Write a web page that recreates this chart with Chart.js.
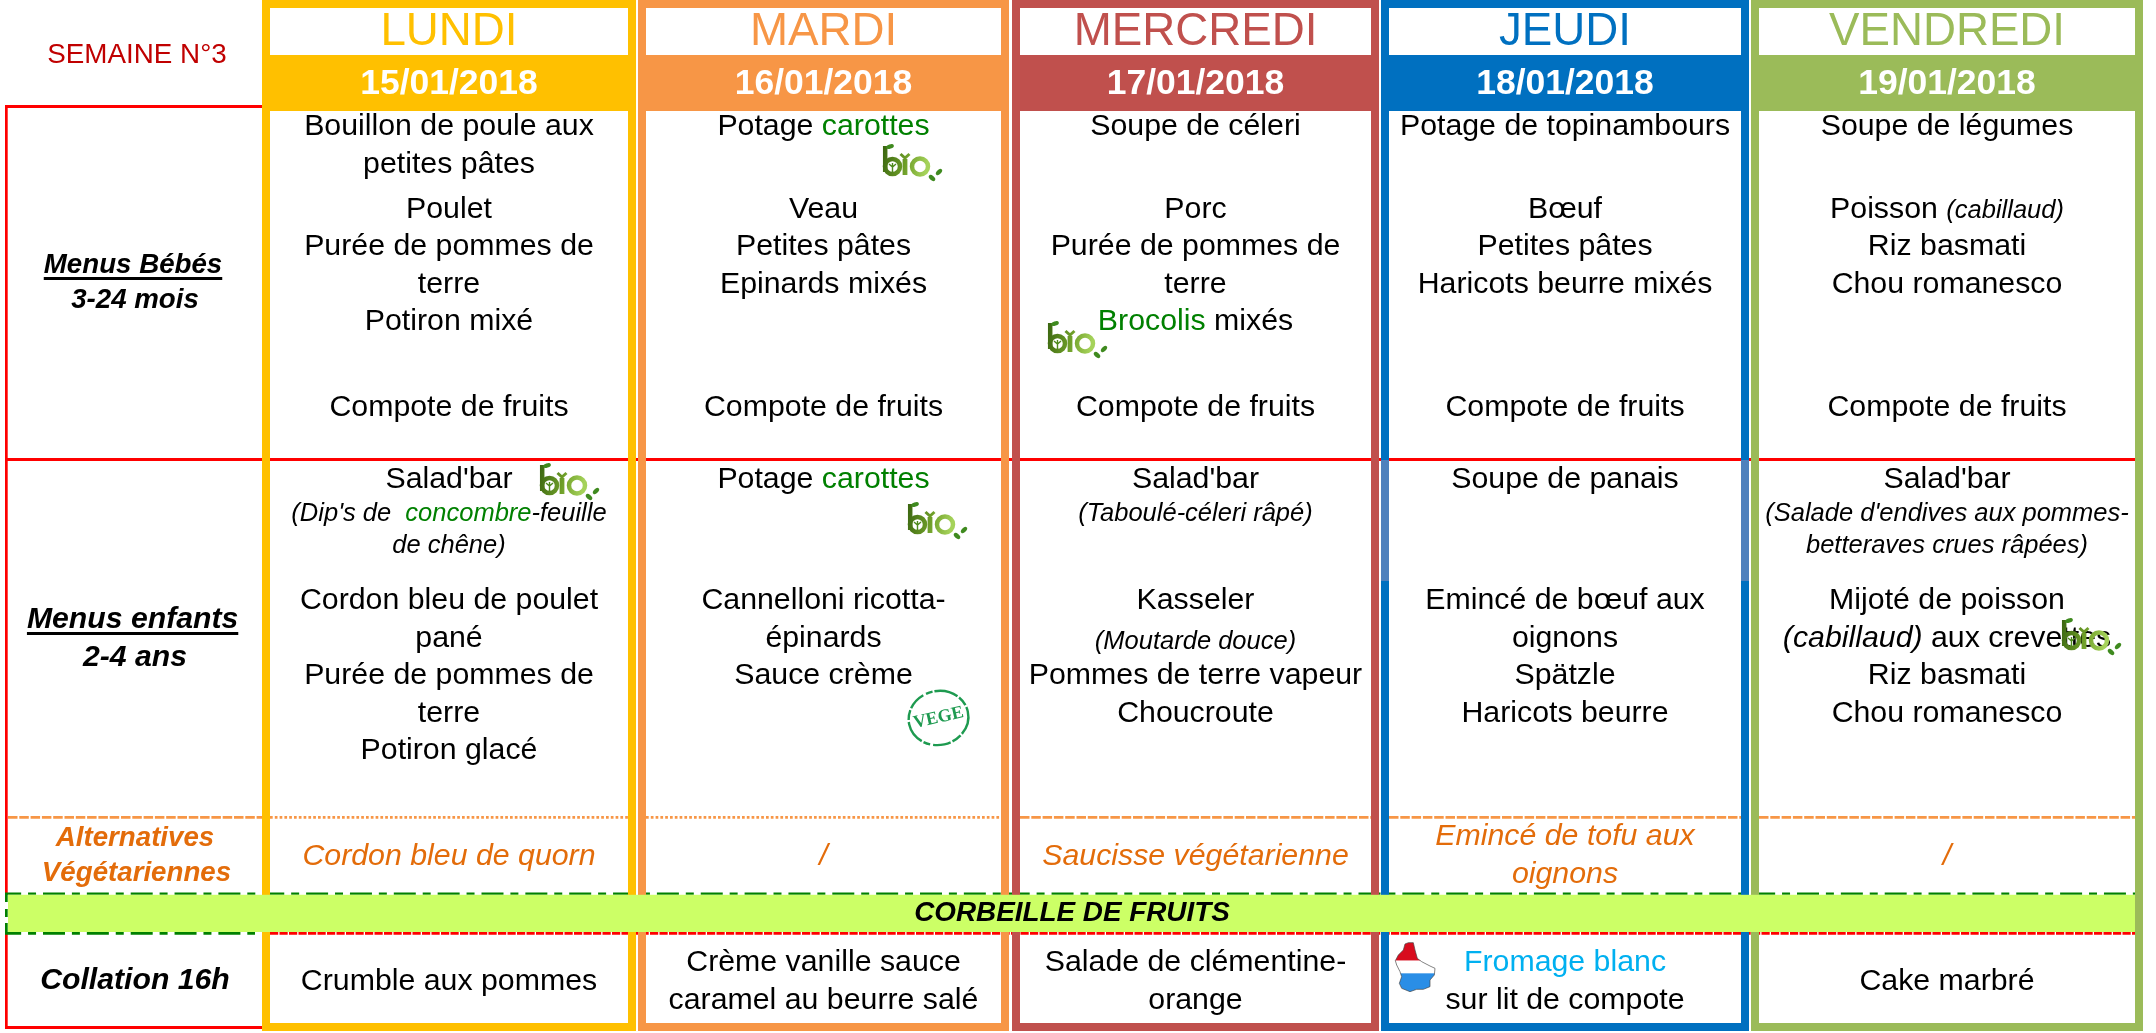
<!DOCTYPE html>
<html lang="fr">
<head>
<meta charset="utf-8">
<title>Menus semaine 3</title>
<script src="https://cdn.jsdelivr.net/npm/chart.js@4/dist/chart.umd.js"></script>
<style>html,body{margin:0;padding:0;background:#fff;overflow:hidden}canvas{display:block}</style>
</head>
<body>
<canvas id="c" width="2156" height="1033" style="width:2156px;height:1033px"></canvas>
<script>
// ---- content ----
const weekLabel = "SEMAINE N°3";
const days = ["LUNDI","MARDI","MERCREDI","JEUDI","VENDREDI"];
const dates = ["15/01/2018","16/01/2018","17/01/2018","18/01/2018","19/01/2018"];
const dayColors = ["#FFC000","#F79646","#C0504D","#0070C0","#9BBB59"];

// {g:..} green, {i:..} italic, {s:..} small italic, {h:..} small italic green, {c:..} cyan
const babyMonday = ["Bouillon de poule aux","petites pâtes","Poulet","Purée de pommes de","terre","Potiron mixé","","Compote de fruits"];
const babyTuesday = ["Potage {g:carottes}","","Veau","Petites pâtes","Epinards mixés","","","Compote de fruits"];
const babyWednesday = ["Soupe de céleri","","Porc","Purée de pommes de","terre","{g:Brocolis} mixés","","Compote de fruits"];
const babyThursday = ["Potage de topinambours","","Bœuf","Petites pâtes","Haricots beurre mixés","","","Compote de fruits"];
const babyFriday = ["Soupe de légumes","","Poisson {s:(cabillaud)}","Riz basmati","Chou romanesco","","","Compote de fruits"];

const kidMonday = ["Salad'bar","{s:(Dip's de  }{h:concombre}{s:-feuille}","{s:de chêne)}","Cordon bleu de poulet","pané","Purée de pommes de","terre","Potiron glacé"];
const kidTuesday = ["Potage {g:carottes}","","","Cannelloni ricotta-","épinards","Sauce crème","",""];
const kidWednesday = ["Salad'bar","{s:(Taboulé-céleri râpé)}","","Kasseler","{s:(Moutarde douce)}","Pommes de terre vapeur","Choucroute",""];
const kidThursday = ["Soupe de panais","","","Emincé de bœuf aux","oignons","Spätzle","Haricots beurre",""];
const kidFriday = ["Salad'bar","{s:(Salade d'endives aux pommes-}","{s:betteraves crues râpées)}","Mijoté de poisson","{i:(cabillaud)} aux crevettes","Riz basmati","Chou romanesco",""];

const veggieOptions = [["Cordon bleu de quorn"],["/"],["Saucisse végétarienne"],["Emincé de tofu aux","oignons"],["/"]];
const snacks = [["Crumble aux pommes"],["Crème vanille sauce","caramel au beurre salé"],["Salade de clémentine-","orange"],["{c:Fromage blanc}","sur lit de compote"],["Cake marbré"]];
const fruitBanner = "CORBEILLE DE FRUITS";
const rowLabels = [["Menus Bébés","3-24 mois"],["Menus enfants","2-4 ans"],["Alternatives","Végétariennes"],["Collation 16h"]];

// ---- layout ----
const outerL = [262,638,1012,1381,1751], outerR = [636,1009,1379,1749,2143];
const innerL = [270,646,1020,1389,1759], innerR = [628,1001,1371,1741,2135];
const babySlots = [135,173,218,255,293,330,368,416];
const kidSlots = [488,521,553,609,647,684,722,759];
const babyCols = [babyMonday,babyTuesday,babyWednesday,babyThursday,babyFriday];
const kidCols = [kidMonday,kidTuesday,kidWednesday,kidThursday,kidFriday];
const bioSpots = [[883,145],[1048,322],[540,464],[908,503],[2062,619]];

const FONT = '"Liberation Sans", Arial, sans-serif';
const BODY = 30.3, SMALL = 25.5, RED = "#FF0000", ORANGE = "#E36C0A", GREEN = "#008000", CYAN = "#00B0F0", RULE = "#F79646";

function parseRuns(s){
  const out=[]; const re=/\{(\w):([^}]*)\}|([^{]+)/g; let m;
  while((m=re.exec(s))){ if(m[3]) out.push({k:"n",t:m[3]}); else out.push({k:m[1],t:m[2]}); }
  return out;
}
function runStyle(k,base){
  switch(k){
    case "g": return {font:`${BODY}px ${FONT}`,color:GREEN};
    case "i": return {font:`italic ${BODY}px ${FONT}`,color:"#000"};
    case "s": return {font:`italic ${SMALL}px ${FONT}`,color:"#000"};
    case "h": return {font:`italic ${SMALL}px ${FONT}`,color:GREEN};
    case "c": return {font:`${BODY}px ${FONT}`,color:CYAN};
    default: return base||{font:`${BODY}px ${FONT}`,color:"#000"};
  }
}
function drawRich(ctx,s,cx,y,base){
  const runs=parseRuns(s).map(r=>({...r,st:runStyle(r.k,base)}));
  let w=0; runs.forEach(r=>{ctx.font=r.st.font; r.w=ctx.measureText(r.t).width; w+=r.w;});
  let x=cx-w/2; ctx.textAlign="left"; ctx.textBaseline="alphabetic";
  runs.forEach(r=>{ctx.font=r.st.font; ctx.fillStyle=r.st.color; ctx.fillText(r.t,x,y); x+=r.w;});
}

// ---- icons (pictures in the original) ----
function drawBio(ctx,px,py){
  ctx.save(); ctx.translate(px,py);
  const g=ctx.createLinearGradient(0,0,46,10); g.addColorStop(0,"#3A6510"); g.addColorStop(0.55,"#6E9E28"); g.addColorStop(1,"#A5D25A");
  ctx.strokeStyle=g; ctx.lineCap="butt";
  ctx.lineWidth=4.5;
  ctx.beginPath(); ctx.moveTo(2.2,1); ctx.lineTo(2.2,27); ctx.stroke();
  ctx.beginPath(); ctx.arc(9.5,21.5,7.5,0,Math.PI*2); ctx.stroke();
  ctx.strokeStyle="#4E8A1C"; ctx.lineWidth=1.4;
  ctx.beginPath(); ctx.moveTo(9.5,27); ctx.lineTo(9.5,18); ctx.moveTo(6,19); ctx.lineTo(9.5,22); ctx.lineTo(13,19); ctx.stroke();
  ctx.strokeStyle=g; ctx.lineWidth=4.8;
  ctx.beginPath(); ctx.moveTo(22,14); ctx.lineTo(22,30); ctx.stroke();
  ctx.lineWidth=3; ctx.beginPath(); ctx.moveTo(17.5,9); ctx.lineTo(22,13); ctx.lineTo(26.5,9); ctx.stroke();
  ctx.lineWidth=4.5;
  ctx.beginPath(); ctx.arc(37,21.5,8,0,Math.PI*2); ctx.stroke();
  ctx.fillStyle="#3F8A1F";
  const leaf=(x,y,r,l)=>{ctx.save();ctx.translate(x,y);ctx.rotate(r);ctx.beginPath();ctx.ellipse(0,0,l,2.2,0,0,Math.PI*2);ctx.fill();ctx.restore();};
  leaf(7,1.5,-0.35,4); leaf(49,33,0.7,3.8); leaf(56,27,-0.8,3.8);
  ctx.restore();
}
function drawVege(ctx,cx,cy){
  ctx.save(); ctx.translate(cx,cy); ctx.rotate(-0.22);
  ctx.strokeStyle="#1E9A50"; ctx.lineWidth=2.4; ctx.setLineDash([24,2,10,2,18,3,7,2]);
  ctx.beginPath(); ctx.ellipse(0,0,30,27,0,0,Math.PI*2); ctx.stroke(); ctx.setLineDash([]);
  ctx.fillStyle="#1E9A50"; ctx.font='bold 18px "Liberation Serif", serif'; ctx.textAlign="center"; ctx.textBaseline="middle";
  ctx.fillText("VEGE",0,0);
  ctx.restore();
}
const luxOutline=[[75,42],[85,38],[100,38],[105,60],[112,85],[125,95],[150,108],[165,115],[163,135],[150,150],[150,170],[130,178],[110,178],[90,185],[65,175],[58,160],[65,140],[60,125],[50,105],[46,92],[55,75],[70,60]];
function drawLux(ctx,px,py){
  ctx.save(); ctx.translate(px,py); ctx.scale(1/3,1/3);
  const path=new Path2D(); luxOutline.forEach((p,i)=>i?path.lineTo(p[0],p[1]):path.moveTo(p[0],p[1])); path.closePath();
  ctx.save(); ctx.clip(path);
  ctx.fillStyle="#D80C1E"; ctx.fillRect(0,0,300,92);
  ctx.fillStyle="#fff"; ctx.fillRect(0,92,300,38);
  ctx.fillStyle="#2A8EE6"; ctx.fillRect(0,130,300,70);
  ctx.restore();
  ctx.strokeStyle="#444"; ctx.lineWidth=2; ctx.stroke(path);
  ctx.restore();
}

// ---- drawing through the chart's scales ----
const menuPlugin={
  id:"menu",
  afterDatasetsDraw(chart){
    const ctx=chart.ctx, X=v=>chart.scales.x.getPixelForValue(v), Y=v=>chart.scales.y.getPixelForValue(v);
    const rect=(x0,y0,x1,y1,col)=>{ctx.fillStyle=col;ctx.fillRect(X(x0),Y(y0),X(x1)-X(x0),Y(y1)-Y(y0));};
    const line=(x0,y,x1,col,w,dash,off)=>{ctx.save();ctx.strokeStyle=col;ctx.lineWidth=w;ctx.setLineDash(dash||[]);ctx.lineDashOffset=off||0;ctx.beginPath();ctx.moveTo(X(x0),Y(y));ctx.lineTo(X(x1),Y(y));ctx.stroke();ctx.restore();};
    const dashDot=[22,6.9,8,6.95];
    ctx.save();
    // red grid
    rect(5,105,262,108,RED);
    rect(5,105,7.7,893,RED);
    rect(5,933,7.7,1029,RED);
    rect(5,458,2135,461,RED);
    rect(5,1026,262,1029,RED);
    // banner edges, under the day frames
    line(5,893.6,2135,GREEN,2.4,dashDot,5.85);
    line(270,933.4,2135,RED,2.6,[8.2,1.3]);
    line(5,933.4,255,GREEN,2.6,dashDot,5.85);
    // orange rule in the row-label column
    line(8,817.3,262,RULE,2.7,[9.5,1.8]);
    // columns
    days.forEach((d,i)=>{
      const c=dayColors[i];
      rect(outerL[i],0,innerL[i],1031,c);
      rect(innerR[i],0,outerR[i],1031,c);
      rect(outerL[i],0,outerR[i],8,c);
      rect(outerL[i],55,outerR[i],111,c);
      rect(outerL[i],1023,outerR[i],1031,c);
      const dotted=i<2;
      line(innerL[i],817.3,innerR[i],RULE,2.7,dotted?[2.7,2.1]:[9.5,1.8]);
      ctx.textAlign="center";ctx.textBaseline="alphabetic";
      const cx=X((innerL[i]+innerR[i])/2);
      ctx.font=`45.7px ${FONT}`;ctx.fillStyle=c;ctx.fillText(d,cx,Y(45));
      ctx.font=`bold 35.5px ${FONT}`;ctx.fillStyle="#fff";ctx.fillText(dates[i],cx,Y(94));
    });
    // lighter strip of the JEUDI frame
    rect(outerL[3],460,innerL[3],581,"#4F81BD");
    rect(innerR[3],460,outerR[3],581,"#4F81BD");
    // fruit banner
    rect(8,894.8,2135,932,"#CCFF66");
    rect(5,893,7.7,902,GREEN);
    rect(5,909,7.7,917,GREEN);
    rect(5,923,7.7,932,GREEN);
    ctx.font=`italic bold 27.85px ${FONT}`;ctx.fillStyle="#000";ctx.textAlign="center";ctx.textBaseline="alphabetic";
    ctx.fillText(fruitBanner,X(1072),Y(920.5));
    // week label
    ctx.font=`27.8px ${FONT}`;ctx.fillStyle="#C00000";ctx.fillText(weekLabel,X(137),Y(63));
    // row labels
    const lab=(t,x,y,col,size,ul)=>{
      ctx.font=`italic bold ${size}px ${FONT}`;ctx.fillStyle=col;ctx.textAlign="center";ctx.fillText(t,X(x),Y(y));
      if(ul){const w=ctx.measureText(t).width;ctx.fillRect(X(x)-w/2,Y(y)+4,w,3);}
    };
    lab(rowLabels[0][0],133,273,"#000",27.7,true);
    lab(rowLabels[0][1],135,308,"#000",27.7);
    lab(rowLabels[1][0],132.6,628,"#000",30.2,true);
    lab(rowLabels[1][1],135,666,"#000",30.2);
    lab(rowLabels[2][0],135,845.7,ORANGE,27.7);
    lab(rowLabels[2][1],136.5,881,ORANGE,27.7);
    lab(rowLabels[3][0],135,989,"#000",30.2);
    // menu text
    chart.data.datasets[0].data.forEach(p=>{
      drawRich(ctx,p.text,X(p.x),Y(p.y),p.base);
    });
    // pictures
    bioSpots.forEach(s=>drawBio(ctx,X(s[0]),Y(s[1])));
    drawVege(ctx,X(938.5),Y(718));
    drawLux(ctx,X(1380),Y(930));
    ctx.restore();
  }
};

// text anchors as data points of the chart
const anchors=[];
days.forEach((d,i)=>{
  const cx=(innerL[i]+innerR[i])/2;
  babyCols[i].forEach((t,j)=>{ if(t) anchors.push({x:cx,y:babySlots[j],text:t}); });
  kidCols[i].forEach((t,j)=>{ if(t) anchors.push({x:cx,y:kidSlots[j]+(j===4&&t.startsWith("{s:")?2:0),text:t}); });
  const alt=veggieOptions[i], altBase={font:`italic ${BODY}px ${FONT}`,color:ORANGE};
  (alt.length===1?[865]:[845,883]).forEach((y,j)=>anchors.push({x:cx,y,text:alt[j],base:altBase}));
  const sn=snacks[i];
  (sn.length===1?[990]:[971,1009]).forEach((y,j)=>anchors.push({x:cx,y,text:sn[j]}));
});

new Chart(document.getElementById("c"),{
  type:"scatter",
  data:{datasets:[{data:anchors,pointRadius:0,showLine:false}]},
  options:{
    responsive:false,animation:false,
    layout:{padding:0},
    plugins:{legend:{display:false},tooltip:{enabled:false},title:{display:false}},
    scales:{
      x:{type:"linear",min:0,max:2156,display:false},
      y:{type:"linear",min:0,max:1033,reverse:true,display:false}
    }
  },
  plugins:[menuPlugin]
});
</script>
</body>
</html>
